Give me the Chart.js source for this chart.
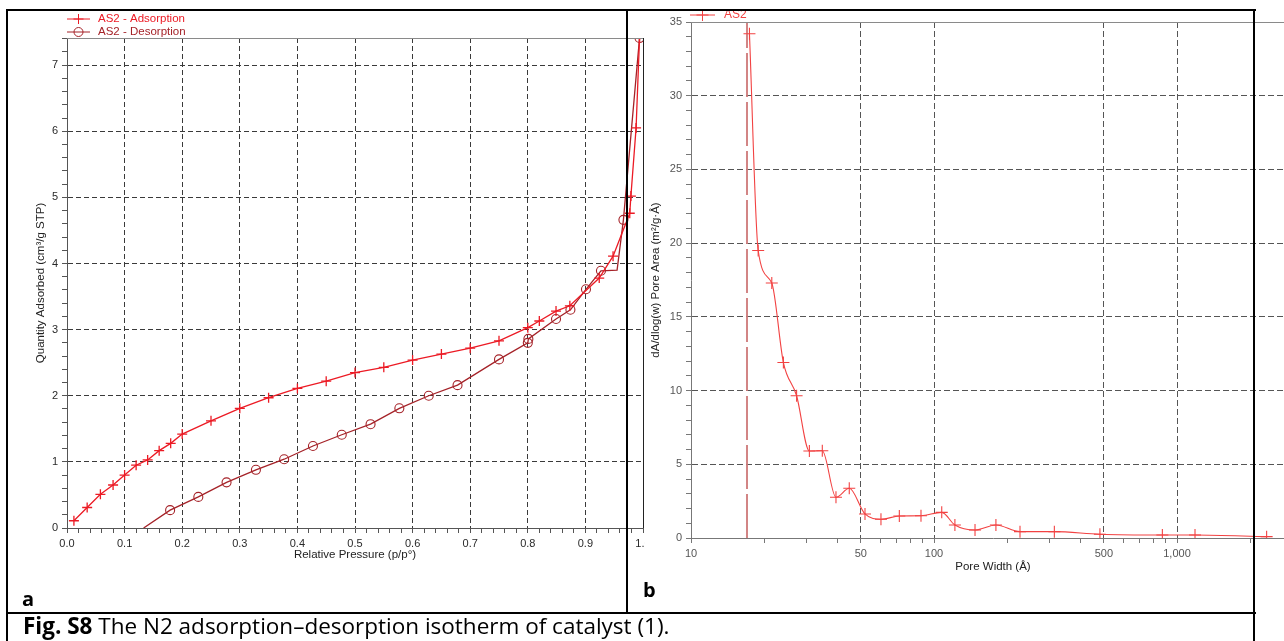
<!DOCTYPE html>
<html>
<head>
<meta charset="utf-8">
<title>Fig. S8</title>
<script src="https://cdn.jsdelivr.net/npm/chart.js@4.4.1/dist/chart.umd.min.js"></script>
<style>
    html, body { margin: 0; padding: 0; background: #fff; overflow: hidden; width: 1284px; height: 641px; }
    #wrap { position: relative; width: 1284px; height: 641px; overflow: hidden; }
    canvas { position: absolute; top: 0; }
    #chartA { left: 0; }
    #chartB { left: 645px; background: #fff; }
    .ln { position: absolute; background: #000; }
    .tag { position: absolute; font-family: "Open Sans", sans-serif; font-weight: 700; font-size: 20px; line-height: 20px; color: #000; }
    #caption { position: absolute; left: 23px; top: 615px; font-family: "Open Sans", sans-serif; font-size: 22.5px; line-height: 22.5px; white-space: nowrap; color: #000; }
</style>
</head>
<body>
<div id="wrap">
    <canvas id="chartA" width="660" height="613"></canvas>
    <canvas id="chartB" width="660" height="613"></canvas>

    <!-- table frame -->
    <div class="ln" style="left:6px; top:9px; width:1250px; height:2px;"></div>
    <div class="ln" style="left:6px; top:9px; width:2px; height:640px;"></div>
    <div class="ln" style="left:626px; top:9px; width:2px; height:605px;"></div>
    <div class="ln" style="left:1253px; top:9px; width:2px; height:640px;"></div>
    <div class="ln" style="left:6px; top:612px; width:1250px; height:2px;"></div>

    <div class="tag" style="left:22px; top:589px;">a</div>
    <div class="tag" style="left:643px; top:580px;">b</div>
    <div id="caption"><b>Fig. S8</b> The N2 adsorption–desorption isotherm of catalyst (1).</div>
</div>

<script>
// ---- (a) isotherm: relative pressure p/p° vs quantity adsorbed (cm³/g STP)
const adsP = [0.012, 0.035, 0.058, 0.080, 0.100, 0.120, 0.140, 0.160, 0.180, 0.200,
              0.250, 0.300, 0.350, 0.400, 0.450, 0.500, 0.550, 0.600, 0.650, 0.700,
              0.750, 0.800, 0.820, 0.849, 0.873, 0.924, 0.948, 0.977, 0.979, 0.988, 0.994];
const adsQ = [0.11, 0.31, 0.51, 0.65, 0.80, 0.95, 1.03, 1.17, 1.28, 1.42,
              1.62, 1.81, 1.97, 2.11, 2.22, 2.35, 2.43, 2.54, 2.63, 2.72,
              2.83, 3.03, 3.13, 3.28, 3.36, 3.78, 4.11, 4.76, 5.02, 6.05, 7.41];

const desP = [0.994, 0.966, 0.955, 0.927, 0.901, 0.874, 0.849, 0.801, 0.800, 0.750,
              0.678, 0.628, 0.577, 0.527, 0.477, 0.427, 0.377, 0.328, 0.277, 0.228,
              0.179, 0.133];
const desQ = [7.41, 4.66, 3.90, 3.89, 3.61, 3.30, 3.16, 2.86, 2.80, 2.55,
              2.16, 2.00, 1.81, 1.57, 1.41, 1.24, 1.04, 0.88, 0.69, 0.47,
              0.27, 0.00];
// desorption points drawn without a marker
const desNoMarker = [2, 21];

const pTicks = [0, 0.1, 0.2, 0.3, 0.4, 0.5, 0.6, 0.7, 0.8, 0.9, 1.0];
const qTicks = [0, 1, 2, 3, 4, 5, 6, 7];
const qMax = 7.41;

// ---- (b) pore area distribution: pore width (Å) vs dA/dlog(w)
const poreW = [17.4, 18.9, 21.5, 24.0, 27.2, 30.7, 34.7, 39.5, 44.8, 52.0,
               60.5, 72.0, 88.4, 107.6, 121.9, 147.5, 179.8, 225.9, 312.8, 481.7,
               870.4, 1186, 2338];
const poreA = [34.2, 19.5, 17.3, 11.9, 9.65, 5.90, 5.92, 2.76, 3.37, 1.63,
               1.27, 1.49, 1.51, 1.74, 0.88, 0.54, 0.88, 0.43, 0.43, 0.25,
               0.20, 0.20, 0.09];
// vertical marker at the smallest pore width
const cutW = [17.0, 17.0];
const cutA = [0, 35];

const wTicks = [10, 50, 100, 500, 1000];
const wMinor = [10, 20, 30, 40, 50, 60, 70, 80, 90, 100, 200, 300, 400, 500, 600, 700, 800, 900, 1000, 2000, 3000];
const aTicks = [0, 5, 10, 15, 20, 25, 30, 35];

const RED = 'rgb(236,26,36)';
const DARK_RED = 'rgb(165,34,40)';
const LINE_B = 'rgb(242,66,66)';
const FONT = '"Liberation Sans", Arial, sans-serif';

const isIn = (list, v) => list.some(t => Math.abs(t - v) < 1e-6);
const steps = (min, max, step) => {
    const out = [];
    for (let i = 0; min + i * step <= max + 1e-9; i++) out.push({ value: +(min + i * step).toFixed(4) });
    return out;
};
const pts = (xs, ys) => xs.map((x, i) => ({ x: x, y: ys[i] }));

// legend drawn as line + marker + label, top-left of each panel
const lineLegend = {
    id: 'lineLegend',
    afterDraw(chart, args, opts) {
        const ctx = chart.ctx;
        ctx.save();
        ctx.font = opts.fontSize + 'px ' + FONT;
        ctx.textBaseline = 'middle';
        opts.items.forEach((it, i) => {
            const ds = chart.data.datasets[it.dataset];
            const y = opts.y + i * opts.rowGap;
            ctx.strokeStyle = ds.borderColor;
            ctx.lineWidth = 1;
            ctx.beginPath();
            ctx.moveTo(opts.x, y);
            ctx.lineTo(opts.x + opts.lineLen, y);
            ctx.stroke();
            ctx.fillStyle = 'rgba(0,0,0,0)';
            Chart.helpers.drawPoint(ctx, { pointStyle: it.style, radius: it.radius, borderWidth: 1, rotation: 0 },
                opts.x + opts.lineLen / 2, y);
            ctx.fillStyle = ds.borderColor;
            ctx.fillText(ds.label, opts.x + opts.lineLen + opts.gap, y);
        });
        ctx.restore();
    }
};

// plot box edges that are not axes
const plotBox = {
    id: 'plotBox',
    afterDraw(chart, args, opts) {
        const { ctx, chartArea: a } = chart;
        ctx.save();
        ctx.lineWidth = 1;
        ctx.strokeStyle = opts.topColor;
        ctx.beginPath();
        ctx.moveTo(a.left, a.top + 0.5);
        ctx.lineTo(a.right, a.top + 0.5);
        ctx.stroke();
        if (opts.rightColor) {
            ctx.strokeStyle = opts.rightColor;
            ctx.beginPath();
            ctx.moveTo(Math.round(a.right) + 0.5, a.top);
            ctx.lineTo(Math.round(a.right) + 0.5, a.bottom);
            ctx.stroke();
        }
        ctx.restore();
    }
};

const tickFont = { family: FONT, size: 11 };
const titleFont = { family: FONT, size: 11.5 };

// ---------------- chart (a)
new Chart(document.getElementById('chartA'), {
    type: 'line',
    data: {
        datasets: [
            {
                label: 'AS2 - Adsorption',
                data: pts(adsP, adsQ),
                borderColor: RED,
                backgroundColor: 'rgba(0,0,0,0)',
                borderWidth: 1.3,
                pointStyle: 'cross',
                pointRadius: 5,
                pointBorderWidth: 1.3,
                pointBorderColor: RED,
                tension: 0
            },
            {
                label: 'AS2 - Desorption',
                data: pts(desP, desQ),
                borderColor: DARK_RED,
                backgroundColor: 'rgba(0,0,0,0)',
                borderWidth: 1.3,
                pointStyle: 'circle',
                pointRadius: c => desNoMarker.includes(c.dataIndex) ? 0 : 4.5,
                pointBorderWidth: 1.1,
                pointBorderColor: DARK_RED,
                pointBackgroundColor: 'rgba(0,0,0,0)',
                tension: 0
            }
        ]
    },
    options: {
        responsive: false,
        animation: false,
        events: [],
        layout: { padding: { top: 38, right: 17, bottom: 51, left: 0 } },
        plugins: {
            legend: { display: false },
            tooltip: { enabled: false },
            lineLegend: {
                x: 67, y: 19, rowGap: 13, lineLen: 23, gap: 8, fontSize: 11.5,
                items: [
                    { dataset: 0, style: 'cross', radius: 5 },
                    { dataset: 1, style: 'circle', radius: 4.5 }
                ]
            },
            plotBox: { topColor: '#8a8a8a', rightColor: '#222' }
        },
        scales: {
            x: {
                type: 'linear', min: 0, max: 1,
                afterBuildTicks: s => { s.ticks = steps(0, 1, 0.02); },
                afterFit: s => { s.height = 34; },
                ticks: {
                    autoSkip: false, maxRotation: 0, padding: 4, color: '#2a2a2a', font: tickFont,
                    callback: v => isIn(pTicks, v) ? v.toFixed(1) : ''
                },
                grid: {
                    color: c => (isIn(pTicks, c.tick.value) && c.tick.value > 0 && c.tick.value < 1) ? '#3a3a3a' : 'rgba(0,0,0,0)',
                    tickColor: '#555', tickLength: 5, lineWidth: 1
                },
                border: { color: '#555', width: 1, dash: [5, 3] },
                title: { display: true, text: 'Relative Pressure (p/p°)', color: '#222', font: titleFont, padding: { top: 0, bottom: 0 } }
            },
            y: {
                type: 'linear', min: 0, max: qMax,
                afterBuildTicks: s => { s.ticks = steps(0, qMax, 0.2); },
                afterFit: s => { s.width = 67; },
                ticks: {
                    autoSkip: false, padding: 4, color: '#2a2a2a', font: tickFont,
                    callback: v => isIn(qTicks, v) ? String(Math.round(v)) : ''
                },
                grid: {
                    color: c => (isIn(qTicks, c.tick.value) && c.tick.value > 0) ? '#3a3a3a' : 'rgba(0,0,0,0)',
                    tickColor: '#555', tickLength: 5, lineWidth: 1
                },
                border: { color: '#555', width: 1, dash: [5, 3] },
                title: { display: true, text: 'Quantity Adsorbed (cm³/g STP)', color: '#222', font: titleFont, padding: { top: 34, bottom: 0 } }
            }
        }
    },
    plugins: [lineLegend, plotBox]
});

// ---------------- chart (b)
new Chart(document.getElementById('chartB'), {
    type: 'line',
    data: {
        datasets: [
            {
                label: 'AS2',
                data: pts(poreW, poreA),
                borderColor: LINE_B,
                backgroundColor: 'rgba(0,0,0,0)',
                borderWidth: 1.1,
                pointStyle: 'cross',
                pointRadius: 6,
                pointBorderWidth: 1.1,
                pointBorderColor: LINE_B,
                cubicInterpolationMode: 'monotone'
            },
            {
                label: 'cut-off',
                data: pts(cutW, cutA),
                borderColor: 'rgba(205,120,120,0.9)',
                borderWidth: 2,
                borderDash: [44, 5],
                pointRadius: 0
            }
        ]
    },
    options: {
        responsive: false,
        animation: false,
        events: [],
        layout: { padding: { top: 22, right: 10, bottom: 39, left: 0 } },
        plugins: {
            legend: { display: false },
            tooltip: { enabled: false },
            lineLegend: {
                x: 45, y: 15, rowGap: 13, lineLen: 25, gap: 9, fontSize: 12,
                items: [{ dataset: 0, style: 'cross', radius: 6 }]
            },
            plotBox: { topColor: '#8a8a8a' }
        },
        scales: {
            x: {
                type: 'logarithmic', min: 10, max: 3059,
                afterBuildTicks: s => { s.ticks = wMinor.map(v => ({ value: v })); },
                afterFit: s => { s.height = 36; },
                ticks: {
                    autoSkip: false, maxRotation: 0, padding: 4, color: '#555', font: tickFont,
                    callback: v => isIn(wTicks, v) ? v.toLocaleString('en-US') : ''
                },
                grid: {
                    color: c => (isIn(wTicks, c.tick.value) && c.tick.value > 10) ? '#555' : 'rgba(0,0,0,0)',
                    tickColor: '#777', tickLength: 5, lineWidth: 1
                },
                border: { color: '#777', width: 1, dash: [6, 3] },
                title: { display: true, text: 'Pore Width (Å)', color: '#222', font: titleFont, padding: { top: 0, bottom: 0 } }
            },
            y: {
                type: 'linear', min: 0, max: 35,
                afterBuildTicks: s => { s.ticks = steps(0, 35, 1); },
                afterFit: s => { s.width = 46; },
                ticks: {
                    autoSkip: false, padding: 4, color: '#555', font: tickFont,
                    callback: v => isIn(aTicks, v) ? String(v) : ''
                },
                grid: {
                    color: c => (isIn(aTicks, c.tick.value) && c.tick.value > 0 && c.tick.value < 35) ? '#555' : 'rgba(0,0,0,0)',
                    tickColor: '#777', tickLength: 5, lineWidth: 1
                },
                border: { color: '#777', width: 1, dash: [6, 3] },
                title: { display: true, text: 'dA/dlog(w) Pore Area (m²/g·Å)', color: '#222', font: titleFont, padding: { top: 4, bottom: 0 } }
            }
        }
    },
    plugins: [lineLegend, plotBox]
});
</script>
</body>
</html>
